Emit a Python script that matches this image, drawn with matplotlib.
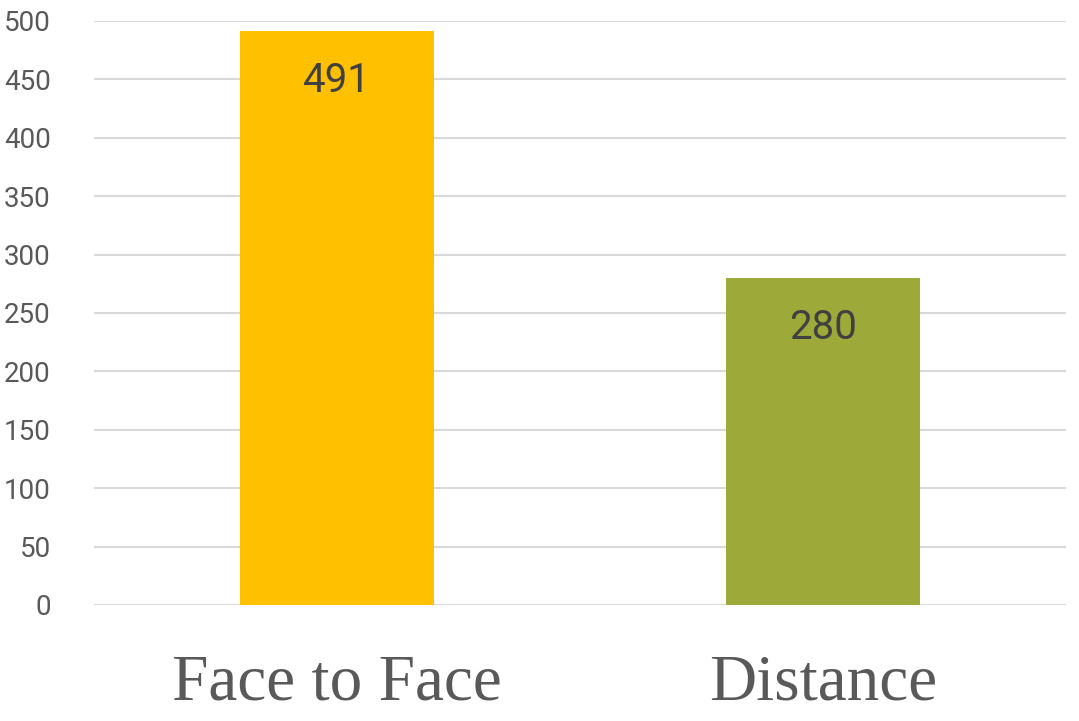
import matplotlib
matplotlib.use('Agg')
import matplotlib.pyplot as plt

categories = ['Face to Face', 'Distance']
counts = [491, 280]
colors = ['#FFC000', '#9DA939']
yticks = [0, 50, 100, 150, 200, 250, 300, 350, 400, 450, 500]

fig = plt.figure(figsize=(10.79, 7.21), dpi=100)
ax = fig.add_axes([0.0871, 0.1609, 0.901, 0.81])

ax.bar(range(len(categories)), counts, width=0.4, color=colors, zorder=2)
ax.set_xlim(-0.5, 1.5)
ax.set_ylim(0, 500)
ax.set_yticks(yticks)
ax.set_yticklabels([str(t) for t in yticks], fontsize=20, color='#595959', family='Roboto')
ax.set_xticks(range(len(categories)))
ax.set_xticklabels(categories, fontsize=47, color='#595959', family='Liberation Serif')
ax.tick_params(axis='y', length=0, pad=31)
ax.tick_params(axis='x', length=0, pad=35)
ax.grid(axis='y', color='#D9D9D9', linewidth=1.5, zorder=0)
ax.set_axisbelow(True)
for s in ax.spines.values():
    s.set_visible(False)

for i, v in enumerate(counts):
    ax.text(i, v - 52, str(v), ha='center', va='baseline', fontsize=29, color='#404040',
            family='Roboto', zorder=3)

fig.savefig('out.png', dpi=100)
